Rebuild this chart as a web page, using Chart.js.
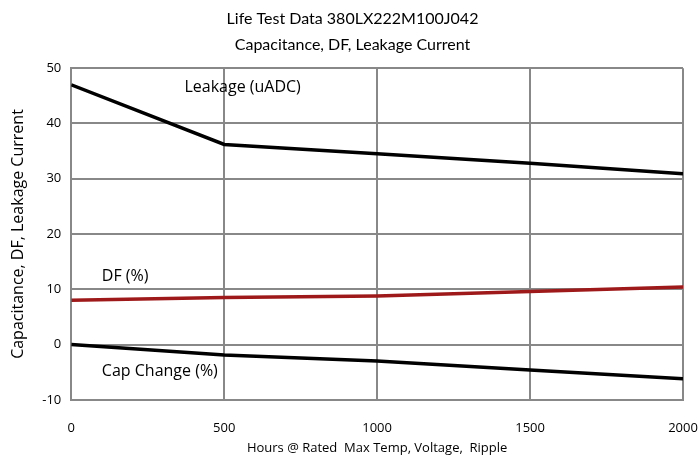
<!DOCTYPE html>
<html><head><meta charset="utf-8">
<script src="https://cdn.jsdelivr.net/npm/chart.js@4"></script>
<style>html,body{margin:0;padding:0;background:#fff}#wrap{width:700px;height:459px}</style>
</head><body><div id="wrap"><canvas id="c"></canvas></div>
<script>
const hours = [0, 500, 1000, 1500, 2000];
const leakage = [47, 36.2, 34.5, 32.8, 30.9];
const df = [8.0, 8.5, 8.8, 9.6, 10.4];
const capChange = [0, -1.9, -3.0, -4.6, -6.2];
const titleLines = ['Life Test Data 380LX222M100J042', 'Capacitance, DF, Leakage Current'];
const xTitle = 'Hours @ Rated  Max Temp, Voltage,  Ripple';
const yTitle = 'Capacitance, DF, Leakage Current';
const labels = [
  {text: 'Leakage (uADC)', x: 370, y: 46.5},
  {text: 'DF (%)', x: 100, y: 12.4},
  {text: 'Cap Change (%)', x: 100, y: -4.9}
];
const toPts = (ys) => hours.map((h, i) => ({x: h, y: ys[i]}));

const labelPlugin = {
  id: 'labels',
  afterDatasetsDraw(chart) {
    const {ctx, scales: {x, y}} = chart;
    ctx.save();
    ctx.font = '16px "Open Sans"';
    ctx.fillStyle = '#000';
    ctx.textBaseline = 'middle';
    ctx.textAlign = 'left';
    labels.forEach(l => ctx.fillText(l.text, x.getPixelForValue(l.x), y.getPixelForValue(l.y)));
    ctx.restore();
  }
};

new Chart(document.getElementById('c'), {
  type: 'line',
  data: {
    datasets: [
      {label: 'Leakage (uADC)', data: toPts(leakage), borderColor: '#000', borderWidth: 3.5, pointRadius: 0, tension: 0},
      {label: 'DF (%)', data: toPts(df), borderColor: '#9e1a1a', borderWidth: 3.5, pointRadius: 0, tension: 0},
      {label: 'Cap Change (%)', data: toPts(capChange), borderColor: '#000', borderWidth: 3.5, pointRadius: 0, tension: 0}
    ]
  },
  options: {
    responsive: true, maintainAspectRatio: false, animation: false,
    layout: {padding: {top: 6, right: 0, left: 5, bottom: 3}},
    plugins: {
      legend: {display: false},
      tooltip: {enabled: false},
      title: {display: true, text: titleLines, color: '#000', font: {family: 'Lato', size: 16, weight: 'normal', lineHeight: 1.6}, padding: {top: 0, bottom: 11}}
    },
    scales: {
      x: {
        type: 'linear', min: 0, max: 2000,
        afterFit(s) { s.paddingRight = 17; },
        ticks: {stepSize: 500, color: '#000', font: {family: 'Open Sans', size: 13}, padding: 21, callback: v => String(v)},
        grid: {color: '#888', lineWidth: 2, drawTicks: false},
        border: {color: '#888', width: 2},
        title: {display: true, text: xTitle, color: '#000', font: {family: 'Open Sans', size: 13}, padding: {top: -17, bottom: 0}}
      },
      y: {
        min: -10, max: 50,
        ticks: {stepSize: 10, color: '#000', font: {family: 'Open Sans', size: 13}, padding: 10, callback: v => String(v)},
        grid: {color: '#888', lineWidth: 2, drawTicks: false},
        border: {color: '#888', width: 2},
        title: {display: true, text: yTitle, color: '#000', font: {family: 'Open Sans', size: 16}, padding: {bottom: 4}}
      }
    }
  },
  plugins: [labelPlugin]
});
</script></body></html>
